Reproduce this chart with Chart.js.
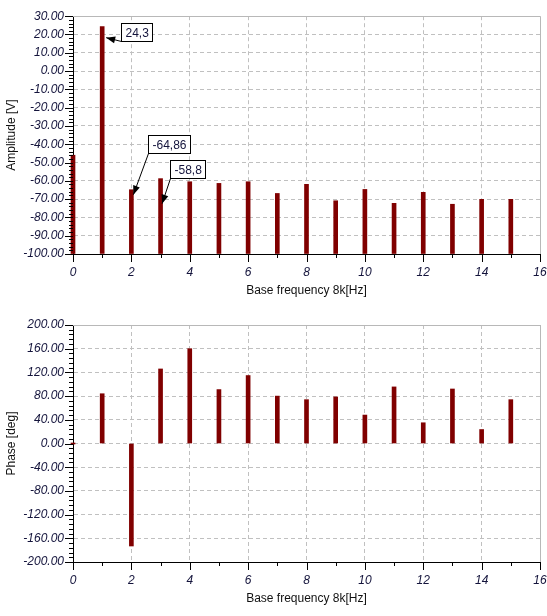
<!DOCTYPE html>
<html>
<head>
<meta charset="utf-8">
<script src="https://cdn.jsdelivr.net/npm/chart.js@4/dist/chart.umd.min.js"></script>
<style>
    body { margin: 0; background: #fff; }
    canvas { display: block; }
</style>
</head>
<body>
<canvas id="ampChart" width="547" height="305"></canvas>
<canvas id="phaseChart" width="547" height="311"></canvas>
<script>
// harmonic number (multiples of the 8 kHz base frequency)
const freqs = [0, 1, 2, 3, 4, 5, 6, 7, 8, 9, 10, 11, 12, 13, 14, 15];
const amplitude = [-46, 24.3, -64.86, -58.8, -60.5, -61.4, -60.5, -66.9, -61.9, -70.9, -64.7, -72.3, -66.3, -72.8, -70.1, -70.1];
const phase = [0, 84, -173, 125.8, 160, 91, 114.7, 80, 74, 78.6, 48, 95.5, 35, 92, 23.6, 74];

// callouts on the amplitude plot
const markFreqs = [1, 2, 3];
const markValues = [24.3, -64.86, -58.8];
const markLabels = ['24,3', '-64,86', '-58,8'];

const FONT = "'Liberation Sans', Arial, sans-serif";
const BAR_COLOR = '#800000';
const TICK_COLOR = '#14143c';
const GRID_COLOR = '#c0c0c0';

const isMajor = (v, step) => Math.abs(v / step - Math.round(v / step)) < 1e-6;

// minor + major tick marks and the grey top/right frame
const axisDecor = {
    id: 'axisDecor',
    beforeDatasetsDraw(chart) {
        const { ctx, chartArea: a } = chart;
        ctx.save();
        ctx.strokeStyle = '#b8b8b8';
        ctx.lineWidth = 1;
        ctx.beginPath();
        ctx.moveTo(a.left, Math.round(a.top) + 0.5);
        ctx.lineTo(a.right, Math.round(a.top) + 0.5);
        ctx.moveTo(Math.round(a.right) + 0.5, a.top);
        ctx.lineTo(Math.round(a.right) + 0.5, a.bottom);
        ctx.stroke();
        ctx.restore();
    },
    afterDraw(chart, args, opts) {
        const { ctx, chartArea: a, scales: { x, y } } = chart;
        ctx.save();
        ctx.strokeStyle = '#000';
        ctx.lineWidth = 1;
        ctx.beginPath();
        for (let v = x.min; v <= x.max + 1e-9; v += opts.xMinor) {
            const px = Math.round(x.getPixelForValue(v)) + 0.5;
            const len = isMajor(v, opts.xMajor) ? 8 : 4;
            ctx.moveTo(px, a.bottom);
            ctx.lineTo(px, a.bottom + len);
        }
        for (let v = y.min; v <= y.max + 1e-9; v += opts.yMinor) {
            const py = Math.round(y.getPixelForValue(v)) + 0.5;
            const len = isMajor(v, opts.yMajor) ? 8 : 4;
            ctx.moveTo(a.left - len, py);
            ctx.lineTo(a.left, py);
        }
        ctx.stroke();
        ctx.restore();
    }
};

// boxed value labels with arrows pointing at the bars
const callouts = {
    id: 'callouts',
    afterDatasetsDraw(chart, args, opts) {
        if (!opts.items) return;
        const { ctx, scales: { x, y } } = chart;
        ctx.save();
        ctx.font = '12px ' + FONT;
        ctx.textBaseline = 'middle';
        opts.items.forEach((it, i) => {
            const bx = x.getPixelForValue(markFreqs[i]);
            const by = y.getPixelForValue(markValues[i]);
            const text = markLabels[i];
            const w = Math.round(ctx.measureText(text).width) + 8;
            const h = 18;
            const left = Math.round(bx + it.box[0]) + 0.5;
            const top = Math.round(by + it.box[1]) + 0.5;
            const tipX = bx + it.tip[0];
            const tipY = by + it.tip[1];
            const fromX = left, fromY = top + h;

            ctx.strokeStyle = '#000';
            ctx.lineWidth = 1;
            ctx.beginPath();
            ctx.moveTo(fromX, fromY);
            ctx.lineTo(tipX, tipY);
            ctx.stroke();

            const ang = Math.atan2(tipY - fromY, tipX - fromX);
            const L = 9, W = 3.5;
            ctx.fillStyle = '#000';
            ctx.beginPath();
            ctx.moveTo(tipX, tipY);
            ctx.lineTo(tipX - L * Math.cos(ang) + W * Math.sin(ang), tipY - L * Math.sin(ang) - W * Math.cos(ang));
            ctx.lineTo(tipX - L * Math.cos(ang) - W * Math.sin(ang), tipY - L * Math.sin(ang) + W * Math.cos(ang));
            ctx.closePath();
            ctx.fill();

            ctx.fillStyle = '#fff';
            ctx.fillRect(left, top, w, h);
            ctx.strokeRect(left, top, w, h);
            ctx.fillStyle = TICK_COLOR;
            ctx.textAlign = 'left';
            ctx.fillText(text, left + 4, top + h / 2 + 1);
        });
        ctx.restore();
    }
};

function makeChart(id, opts) {
    const ctx = document.getElementById(id).getContext('2d');
    return new Chart(ctx, {
        type: 'bar',
        data: {
            datasets: [{
                data: freqs.map((f, i) => ({ x: f, y: opts.values[i] })),
                base: opts.base,
                backgroundColor: BAR_COLOR,
                barThickness: 4,
                minBarLength: 1,
                clip: false
            }]
        },
        options: {
            responsive: false,
            animation: false,
            events: [],
            layout: { padding: { top: opts.padTop, right: 0, left: 0, bottom: 0 } },
            plugins: {
                legend: { display: false },
                tooltip: { enabled: false },
                axisDecor: { xMinor: 1, xMajor: 2, yMinor: opts.yMinor, yMajor: opts.yStep },
                callouts: { items: opts.callouts }
            },
            scales: {
                x: {
                    type: 'linear',
                    min: 0,
                    max: 16,
                    offset: false,
                    afterFit: (s) => {
                        s.height = opts.xHeight;
                        s.paddingRight = 7;
                        s.paddingLeft = 0;
                    },
                    ticks: {
                        stepSize: 2,
                        padding: 11,
                        color: TICK_COLOR,
                        font: { family: FONT, size: 12, style: 'italic' },
                        maxRotation: 0
                    },
                    grid: {
                        offset: false,
                        drawTicks: false,
                        color: (c) => (c.tick && (c.tick.value <= 0 || c.tick.value >= 16)) ? 'rgba(0,0,0,0)' : GRID_COLOR
                    },
                    border: { color: '#000', dash: [4, 3] },
                    title: {
                        display: true,
                        text: 'Base frequency 8k[Hz]',
                        color: '#111',
                        font: { family: FONT, size: 12 },
                        padding: { top: 0, bottom: opts.titlePad }
                    }
                },
                y: {
                    min: opts.min,
                    max: opts.max,
                    afterFit: (s) => { s.width = 73; },
                    ticks: {
                        stepSize: opts.yStep,
                        padding: 9,
                        color: TICK_COLOR,
                        font: { family: FONT, size: 12, style: 'italic' },
                        callback: (v) => v.toFixed(2)
                    },
                    grid: {
                        drawTicks: false,
                        color: (c) => (c.tick && (c.tick.value <= opts.min || c.tick.value >= opts.max)) ? 'rgba(0,0,0,0)' : GRID_COLOR
                    },
                    border: { color: '#000', dash: [4, 3] },
                    title: {
                        display: true,
                        text: opts.title,
                        color: '#111',
                        font: { family: FONT, size: 12 },
                        padding: { top: 4, bottom: 0 }
                    }
                }
            }
        },
        plugins: [axisDecor, callouts]
    });
}

makeChart('ampChart', {
    values: amplitude,
    base: -100,
    min: -100,
    max: 30,
    yStep: 10,
    yMinor: 2,
    title: 'Amplitude [V]',
    padTop: 16,
    xHeight: 51,
    titlePad: 7,
    callouts: [
        { tip: [4, 11], box: [19, -4] },
        { tip: [2, 5], box: [17, -55] },
        { tip: [1.5, 25], box: [9.5, -19] }
    ]
});

makeChart('phaseChart', {
    values: phase,
    base: 0,
    min: -200,
    max: 200,
    yStep: 40,
    yMinor: 8,
    title: 'Phase [deg]',
    padTop: 20,
    xHeight: 54,
    titlePad: 10,
    callouts: null
});
</script>
</body>
</html>
